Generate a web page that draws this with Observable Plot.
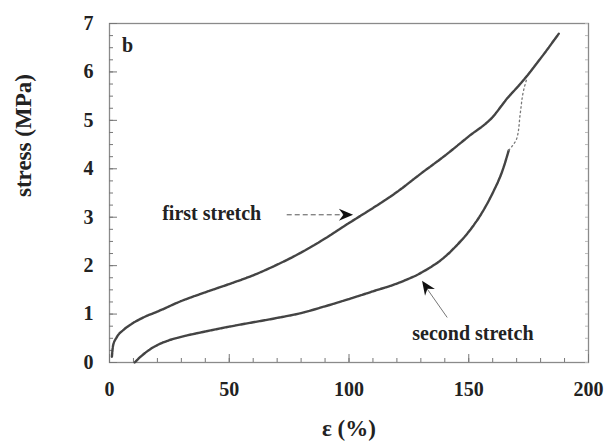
<!DOCTYPE html>
<html>
<head>
<meta charset="utf-8">
<script src="https://cdn.jsdelivr.net/npm/d3@7"></script>
<script src="https://cdn.jsdelivr.net/npm/@observablehq/plot@0.6"></script>
<style>
  html, body { margin: 0; padding: 0; background: #fff; }
  #chart svg text { font-family: "Liberation Serif", serif !important; font-weight: bold; }
</style>
</head>
<body>
<div id="chart"></div>
<script>
// ---- data ----
const firstX = [1, 1.5, 3, 6, 10, 15, 20, 30, 40, 50, 60, 70, 80, 90, 100, 110, 120, 130, 140, 150, 160, 166, 172, 180, 187.6];
const firstY = [0.12, 0.35, 0.52, 0.68, 0.82, 0.95, 1.05, 1.27, 1.45, 1.62, 1.80, 2.02, 2.27, 2.56, 2.88, 3.19, 3.52, 3.9, 4.27, 4.67, 5.07, 5.45, 5.78, 6.28, 6.79];
const secondX = [10.5, 13, 16, 20, 25, 30, 40, 50, 60, 70, 80, 90, 100, 110, 120, 130, 140, 145, 150, 155, 160, 164, 166.7];
const secondY = [0, 0.12, 0.24, 0.36, 0.46, 0.53, 0.64, 0.74, 0.83, 0.92, 1.02, 1.16, 1.31, 1.47, 1.63, 1.85, 2.18, 2.42, 2.7, 3.05, 3.5, 3.95, 4.38];
const tailX = [166.7, 170.2, 171.5, 172.9, 174.3];
const tailY = [4.38, 4.65, 5.14, 5.62, 5.87];

const xTicks = [0, 50, 100, 150, 200];
const yTicks = [0, 1, 2, 3, 4, 5, 6, 7];
const xMinor = d3.range(0, 201, 10);
const yMinor = d3.range(0, 7.01, 0.25);

const labels = ["first stretch", "second stretch"];
const labelX = [22, 126.4];
const labelY = [3.07, 0.6];
const shaftX1 = [74, 141];
const shaftY1 = [3.05, 0.93];
const shaftX2 = [99, 131.5];
const shaftY2 = [3.05, 1.6];
const tipX = [101.7, 130.5];
const tipY = [3.05, 1.69];
const tipAngle = [90, -34];

const panelLabel = "b";
const xTitle = "ε (%)";
const yTitle = "stress (MPa)";

// ---- derived tables ----
const first = firstX.map((x, i) => ({x, y: firstY[i]}));
const second = secondX.map((x, i) => ({x, y: secondY[i]}));
const tail = tailX.map((x, i) => ({x, y: tailY[i]}));
const ann = labels.map((t, i) => ({t, x: labelX[i], y: labelY[i], x1: shaftX1[i], y1: shaftY1[i], x2: shaftX2[i], y2: shaftY2[i], tx: tipX[i], ty: tipY[i], a: tipAngle[i]}));

const barb = {
  draw(ctx, size) {
    const L = Math.sqrt(size) * 1.6, w = L * 0.42;
    ctx.moveTo(0, 0);
    ctx.lineTo(-w, L);
    ctx.lineTo(0, L * 0.68);
    ctx.lineTo(w, L);
    ctx.closePath();
  }
};

const font = "Liberation Serif";
const axisColor = "#8a8a8a";
const xMin = 0, yMin = 0, xMax = 200;

const chart = Plot.plot({
  width: 615,
  height: 443,
  marginLeft: 109,
  marginRight: 27,
  marginTop: 23,
  marginBottom: 81,
  style: {background: "#fff"},
  x: {domain: [0, 200]},
  y: {domain: [0, 7]},
  marks: [
    Plot.frame({stroke: axisColor, strokeWidth: 1.3}),
    // inward ticks (bottom, left, right)
    Plot.ruleX(xMinor, {x: d => d, y1: yMin, y2: yMin, insetTop: -4, stroke: "#777", strokeWidth: 1}),
    Plot.ruleX(xTicks, {x: d => d, y1: yMin, y2: yMin, insetTop: -8, stroke: "#777", strokeWidth: 1}),
    Plot.ruleY(yMinor, {y: d => d, x1: xMin, x2: xMin, insetRight: -4, stroke: "#777", strokeWidth: 1}),
    Plot.ruleY(yTicks, {y: d => d, x1: xMin, x2: xMin, insetRight: -8, stroke: "#777", strokeWidth: 1}),
    Plot.ruleY(yMinor, {y: d => d, x1: xMax, x2: xMax, insetLeft: -3, stroke: "#bbb", strokeWidth: 1}),
    // tick labels
    Plot.axisX({ticks: xTicks, tickFormat: d3.format("d"), tickSize: 0, tickPadding: 19, fontSize: 20, fontFamily: font, fontWeight: "bold", fill: "#222", label: null}),
    Plot.axisY({ticks: yTicks, tickFormat: d3.format("d"), tickSize: 0, tickPadding: 16, fontSize: 20, fontFamily: font, fontWeight: "bold", fill: "#222", label: null}),
    // titles
    Plot.text([xTitle], {frameAnchor: "bottom", dy: 73, text: d => d, fontSize: 23, fontFamily: font, fontWeight: "bold", fill: "#222"}),
    Plot.text([yTitle], {frameAnchor: "left", dx: -86, dy: 4, rotate: -90, text: d => d, fontSize: 23, fontFamily: font, fontWeight: "bold", fill: "#222"}),
    Plot.text([panelLabel], {x: 7.5, y: 6.55, text: d => d, fontSize: 20, fontFamily: font, fontWeight: "bold", fill: "#222"}),
    // curves
    Plot.line(first, {x: "x", y: "y", stroke: "#444", strokeWidth: 2.4, strokeDasharray: "4,1", curve: "monotone-x"}),
    Plot.line(second, {x: "x", y: "y", stroke: "#444", strokeWidth: 2.4, strokeDasharray: "4,1", curve: "monotone-x"}),
    Plot.line(tail, {x: "x", y: "y", stroke: "#777", strokeWidth: 1.3, strokeDasharray: "1.5,3", curve: "monotone-y"}),
    // annotations
    Plot.text(ann, {x: "x", y: "y", text: "t", textAnchor: "start", fontSize: 20, fontFamily: font, fontWeight: "bold", fill: "#222"}),
    Plot.link(ann.slice(0, 1), {x1: "x1", y1: "y1", x2: "x2", y2: "y2", stroke: "#555", strokeWidth: 1, strokeDasharray: "5,3"}),
    Plot.link(ann.slice(1), {x1: "x1", y1: "y1", x2: "x2", y2: "y2", stroke: "#777", strokeWidth: 1}),
    Plot.dot(ann, {x: "tx", y: "ty", symbol: barb, r: 5, fill: "#111", stroke: "none", rotate: "a"})
  ]
});
document.getElementById("chart").append(chart);
</script>
</body>
</html>
